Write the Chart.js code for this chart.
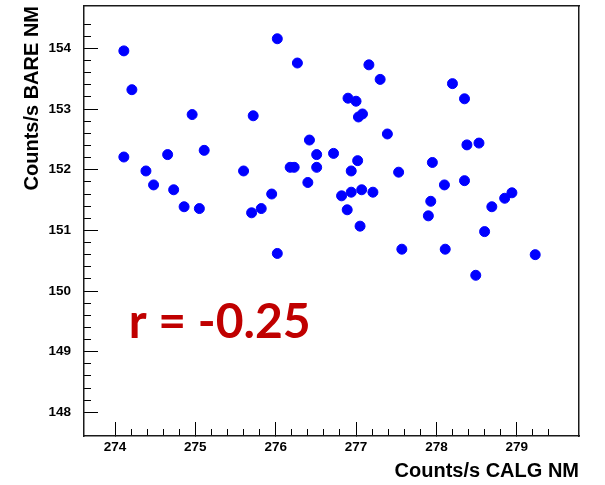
<!DOCTYPE html>
<html>
<head>
<meta charset="utf-8">
<script src="https://cdn.jsdelivr.net/npm/chart.js@4.4.1/dist/chart.umd.min.js"></script>
<style>
  html, body { margin: 0; padding: 0; background: #ffffff; }
  #wrap { position: relative; width: 605px; height: 485px; }
  canvas { display: block; }
</style>
</head>
<body>
<div id="wrap"><canvas id="c" width="605" height="485"></canvas></div>
<script>
// ---- Data ----
const calgRates = [
  274.11, 274.21, 274.11, 274.385, 274.48, 274.655, 274.73, 274.86, 274.96, 275.05,
  275.11, 275.60, 275.72, 275.70, 275.82, 275.95, 276.02, 276.02, 276.18, 276.23,
  276.27, 276.42, 276.40, 276.51, 276.51, 276.72, 276.82, 276.89, 276.90, 276.94,
  276.94, 277.00, 277.02, 277.03, 277.08, 277.07, 277.05, 277.16, 277.21, 277.30,
  277.39, 277.53, 277.57, 277.90, 277.93, 277.95, 278.10, 278.11, 278.20, 278.35,
  278.35, 278.38, 278.53, 278.49, 278.60, 278.69, 278.85, 278.94, 279.23
];
const bareRates = [
  153.96, 153.32, 152.21, 151.98, 151.75, 152.25, 151.67, 151.39, 152.91, 151.36,
  152.32, 151.98, 152.89, 151.29, 151.36, 151.60, 154.16, 150.62, 152.04, 152.04,
  153.76, 152.49, 151.79, 152.25, 152.04, 152.27, 151.57, 151.34, 153.18, 151.98,
  151.63, 153.13, 152.15, 152.87, 152.92, 151.67, 151.07, 153.73, 151.63, 153.49,
  152.59, 151.96, 150.69, 151.24, 151.48, 152.12, 151.75, 150.69, 153.42, 153.17,
  151.82, 152.41, 152.44, 150.26, 150.98, 151.39, 151.53, 151.62, 150.60
];
const xTickValues = [274, 275, 276, 277, 278, 279];
const xTickLabels = ['274', '275', '276', '277', '278', '279'];
const yTickValues = [148, 149, 150, 151, 152, 153, 154];
const yTickLabels = ['148', '149', '150', '151', '152', '153', '154'];
const xRange = [273.614, 279.775];
const yRange = [147.61, 154.70];
const minorStep = 0.2;
const xTitle = 'Counts/s CALG NM';
const yTitle = 'Counts/s BARE NM';
const corrText = 'r = -0.25';
const corrAnchor = [274.17, 149.23];

// ---- Chart ----
const points = calgRates.map((x, i) => ({ x: x, y: bareRates[i] }));

function minorFilter(scale) {
  scale.ticks = scale.ticks.filter(t => {
    const q = t.value / minorStep;
    return Math.abs(q - Math.round(q)) < 1e-6;
  });
}
function zeroPad(s) {
  s.paddingLeft = 0; s.paddingRight = 0; s.paddingTop = 0; s.paddingBottom = 0;
}

const tickFont = { family: '"Liberation Sans", Arial, Helvetica, sans-serif', size: 13.5, weight: 'bold' };
const titleFont = { family: '"Liberation Sans", Arial, Helvetica, sans-serif', size: 20, weight: 'bold' };
const frameColor = '#1a1a1a';

const corrPlugin = {
  id: 'corrText',
  afterDatasetsDraw(chart) {
    const ctx = chart.ctx;
    const px = chart.scales.x.getPixelForValue(corrAnchor[0]);
    const py = chart.scales.y.getPixelForValue(corrAnchor[1]);
    ctx.save();
    ctx.font = 'bold 48px Lato, "Open Sans", sans-serif';
    ctx.fillStyle = '#c00000';
    ctx.textAlign = 'left';
    ctx.textBaseline = 'alphabetic';
    ctx.fillText(corrText, px, py);
    ctx.restore();
  }
};

new Chart(document.getElementById('c'), {
  type: 'scatter',
  data: {
    datasets: [{
      data: points,
      backgroundColor: '#0000ff',
      borderColor: '#0000ff',
      borderWidth: 1,
      pointRadius: 5,
      pointHoverRadius: 5,
      pointStyle: 'circle'
    }]
  },
  options: {
    responsive: false,
    animation: false,
    devicePixelRatio: 1,
    layout: { padding: { left: 0, top: 6, right: 26, bottom: 0 } },
    plugins: { legend: { display: false }, tooltip: { enabled: false } },
    scales: {
      x: {
        type: 'linear', position: 'bottom', weight: 1,
        min: xRange[0], max: xRange[1],
        afterBuildTicks: s => { s.ticks = xTickValues.map(v => ({ value: v })); },
        afterFit: s => { s.height = 49; zeroPad(s); },
        grid: { display: true, drawOnChartArea: false, drawTicks: true, tickLength: -14, tickColor: '#000', tickWidth: 1 },
        border: { display: true, color: frameColor, width: 1.5 },
        ticks: {
          color: '#000', font: tickFont, padding: 17, maxRotation: 0, autoSkip: false,
          callback: (v, i) => xTickLabels[i]
        },
        title: { display: true, text: xTitle, align: 'end', color: '#000', font: titleFont, padding: { top: 0, bottom: 1.5 } }
      },
      xMinor: {
        type: 'linear', position: 'bottom', weight: 0,
        min: xRange[0], max: xRange[1],
        afterBuildTicks: minorFilter,
        afterFit: s => { s.height = 0; zeroPad(s); },
        grid: { display: true, drawOnChartArea: false, drawTicks: true, tickLength: -7, tickColor: '#000', tickWidth: 1 },
        border: { display: false },
        ticks: { display: false, stepSize: minorStep, autoSkip: false }
      },
      y: {
        type: 'linear', position: 'left', weight: 1,
        min: yRange[0], max: yRange[1],
        afterBuildTicks: s => { s.ticks = yTickValues.map(v => ({ value: v })); },
        afterFit: s => { s.width = 84; zeroPad(s); },
        grid: { display: true, drawOnChartArea: false, drawTicks: true, tickLength: -14, tickColor: '#000', tickWidth: 1 },
        border: { display: true, color: frameColor, width: 1.5 },
        ticks: {
          color: '#000', font: tickFont, padding: 27, autoSkip: false,
          callback: (v, i) => yTickLabels[i]
        },
        title: { display: true, text: yTitle, align: 'end', color: '#000', font: titleFont, padding: { top: 20, bottom: 0 } }
      },
      yMinor: {
        type: 'linear', position: 'left', weight: 0,
        min: yRange[0], max: yRange[1],
        afterBuildTicks: minorFilter,
        afterFit: s => { s.width = 0; zeroPad(s); },
        grid: { display: true, drawOnChartArea: false, drawTicks: true, tickLength: -7, tickColor: '#000', tickWidth: 1 },
        border: { display: false },
        ticks: { display: false, stepSize: minorStep, autoSkip: false }
      },
      xTop: {
        type: 'linear', position: 'top',
        min: xRange[0], max: xRange[1],
        afterFit: s => { s.height = 0; zeroPad(s); },
        grid: { display: false },
        border: { display: true, color: frameColor, width: 1.5 },
        ticks: { display: false }
      },
      yRight: {
        type: 'linear', position: 'right',
        min: yRange[0], max: yRange[1],
        afterFit: s => { s.width = 0; zeroPad(s); },
        grid: { display: false },
        border: { display: true, color: frameColor, width: 1.5 },
        ticks: { display: false }
      }
    }
  },
  plugins: [corrPlugin]
});
</script>
</body>
</html>
